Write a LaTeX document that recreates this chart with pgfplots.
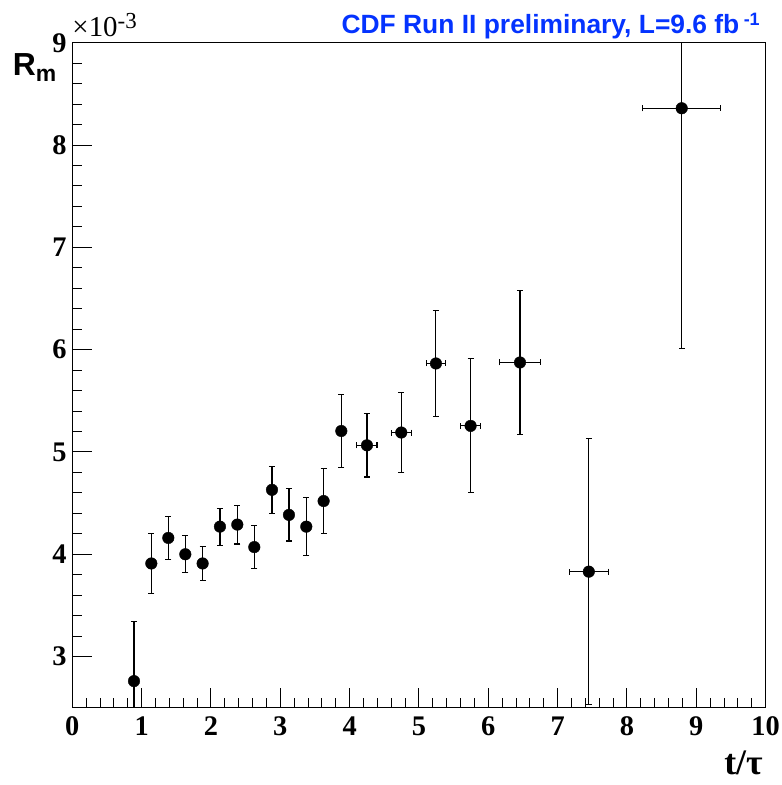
\documentclass[border=0pt]{standalone}
\usepackage{pgfplots}
\pgfplotsset{compat=1.18}
\usepackage{pgfplotstable}
\usepackage{fontspec}
\setmainfont{Liberation Serif}
\setsansfont{Liberation Sans}
\definecolor{cdfblue}{RGB}{4,51,255}

\pgfplotstableread{
x      y      ex     ey
0.89   2.76   0      0.58
1.14   3.91   0      0.29
1.385  4.16   0      0.21
1.63   4.00   0      0.18
1.88   3.91   0      0.17
2.13   4.27   0      0.18
2.38   4.29   0      0.19
2.625  4.07   0      0.21
2.88   4.63   0      0.23
3.125  4.385  0      0.255
3.375  4.27   0      0.285
3.625  4.52   0      0.315
3.88   5.205  0      0.355
4.25   5.065  0.145  0.31
4.745  5.19   0.145  0.39
5.245  5.865  0.14   0.515
5.745  5.255  0.145  0.655
6.457  5.875  0.29   0.705
7.45   3.83   0.285  1.30
8.79   8.36   0.56   2.35
}\datatable

\begin{document}
\begin{tikzpicture}
\begin{axis}[
  scale only axis,
  width=693.4bp, height=665bp,
  xmin=0, xmax=10, ymin=2.5, ymax=9,
  xtick={0,1,...,10}, ytick={3,4,...,9},
  minor x tick num=4, minor y tick num=4,
  xtick pos=left, ytick pos=left,
  tick align=inside,
  major tick length=20bp, minor tick length=10bp,
  tick style={line width=1bp, black},
  axis line style={line width=1.2bp, black},
  /pgf/number format/assume math mode=true,
  ticklabel style={font=\fontsize{28.5}{30}\selectfont\bfseries},
  xticklabel style={inner sep=0pt, yshift=-9bp},
  yticklabel style={inner sep=0pt, xshift=-5.5bp},
  scaled y ticks=false,
]
\addplot[only marks, mark=*, mark size=5.8bp, mark options={fill=black, draw=black},
  error bars/.cd,
    x dir=both, x explicit,
    y dir=both, y explicit,
    error bar style={line width=1.1bp, black},
    error mark options={rotate=90, mark size=3bp, line width=1.1bp, black},
] table[x=x, y=y, x error=ex, y error=ey] {\datatable};
\end{axis}
% x10^-3
\node[anchor=base west, inner sep=0pt, font=\fontsize{29}{30}\selectfont]
  at ([xshift=0bp, yshift=6bp]current axis.north west)
  {×10\raisebox{8bp}{\fontsize{23}{23}\selectfont -3}};
% R_m
\node[anchor=base west, inner sep=0pt, font=\sffamily\bfseries\fontsize{32}{34}\selectfont]
  at ([xshift=-59.6bp, yshift=-33.2bp]current axis.north west)
  {R\raisebox{-6bp}{\fontsize{23}{23}\selectfont m}};
% title
\node[anchor=base east, inner sep=0pt, text=cdfblue, font=\sffamily\bfseries\fontsize{26.5}{28}\selectfont]
  at ([xshift=-5.7bp, yshift=9.5bp]current axis.north east)
  {CDF Run II preliminary, L=9.6 fb\,\raisebox{8bp}{\fontsize{18}{18}\selectfont -1}};
% x label
\node[anchor=base east, inner sep=0pt, font=\bfseries\fontsize{36}{38}\selectfont]
  at ([xshift=-2.7bp, yshift=-67bp]current axis.south east)
  {t/τ};
\pgfresetboundingbox
\path ([xshift=-72.3bp, yshift=-77.3bp]current axis.south west)
  rectangle ([xshift=16.3bp, yshift=42.8bp]current axis.north east);
\end{tikzpicture}
\end{document}
